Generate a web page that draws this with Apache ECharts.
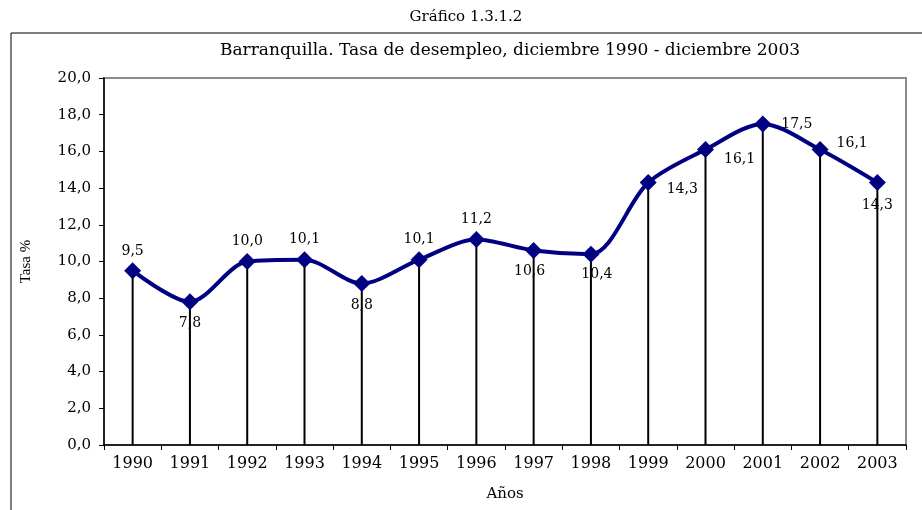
<!DOCTYPE html>
<html>
<head>
<meta charset="utf-8">
<script src="https://cdn.jsdelivr.net/npm/echarts@6/dist/echarts.min.js"></script>
<style>
  html, body { margin: 0; padding: 0; background: #fff; }
  #chart { width: 922px; height: 510px; }
</style>
</head>
<body>
<div id="chart"></div>
<script>
// datos: tasa de desempleo Barranquilla, diciembre de cada año
var years = ['1990', '1991', '1992', '1993', '1994', '1995', '1996',
             '1997', '1998', '1999', '2000', '2001', '2002', '2003'];
var tasa = [9.5, 7.8, 10.0, 10.1, 8.8, 10.1, 11.2, 10.6, 10.4, 14.3, 16.1, 17.5, 16.1, 14.3];

var fmt = function (v) { return v.toFixed(1).replace('.', ','); };

// donde va cada etiqueta (como en el original)
var labelPos = ['top', 'bottom', 'top', 'top', 'bottom', 'top', 'top',
                'bottom', 'bottom', 'right', 'right', 'right', 'right', 'bottom'];
var labelOff = [[0, 4], [0, -2], [0, 3], [0, 3], [0, -2], [0, 3], [0, 3],
                [-4, -3], [6, -3], [2, 7], [2, 10], [2, 0], [0, -6], [0, -1]];

var lineData = tasa.map(function (v, i) {
    return {
        value: v,
        label: { position: labelPos[i], offset: labelOff[i] }
    };
});

var font = 'DejaVu Serif';
var myChart = echarts.init(document.getElementById('chart'));

var option = {
    animation: false,
    backgroundColor: '#fff',
    title: [{
        text: 'Gráfico 1.3.1.2',
        left: 461, top: 5, textAlign: 'center',
        textStyle: { fontFamily: font, fontSize: 15, fontWeight: 'normal', color: '#000' }
    }, {
        text: 'Barranquilla. Tasa de desempleo, diciembre 1990 - diciembre 2003',
        left: 505, top: 37, textAlign: 'center',
        textStyle: { fontFamily: font, fontSize: 17, fontWeight: 'normal', color: '#000' }
    }],
    graphic: [{
        type: 'rect',
        shape: { x: 11, y: 33, width: 940, height: 520 },
        style: { fill: null, stroke: '#000', lineWidth: 1 },
        silent: true, z: -1
    }],
    grid: {
        left: 104, right: 16, top: 78, bottom: 65,
        show: true, borderColor: '#8c8c8c', borderWidth: 2
    },
    xAxis: {
        type: 'category',
        data: years,
        boundaryGap: true,
        name: 'Años',
        nameLocation: 'middle',
        nameGap: 42,
        nameTextStyle: { fontFamily: font, fontSize: 15, color: '#000' },
        axisLine: { lineStyle: { color: '#000', width: 1.5 } },
        axisTick: { show: true, length: 5, lineStyle: { color: '#000' } },
        axisLabel: { fontFamily: font, fontSize: 16, color: '#000', margin: 11 },
        splitLine: { show: false }
    },
    yAxis: {
        type: 'value',
        min: 0, max: 20, interval: 2,
        name: 'Tasa %',
        nameLocation: 'middle',
        nameGap: 70,
        nameTextStyle: { fontFamily: 'Liberation Serif', fontSize: 15, color: '#000' },
        axisLine: { show: true, lineStyle: { color: '#000', width: 1.5 } },
        axisTick: { show: true, length: 5, lineStyle: { color: '#000' } },
        axisLabel: { fontFamily: font, fontSize: 15, color: '#000', margin: 13, formatter: fmt },
        splitLine: { show: false }
    },
    series: [{
        // líneas verticales hasta el eje
        type: 'bar',
        data: tasa,
        barWidth: 2,
        itemStyle: { color: '#000' },
        silent: true,
        z: 1
    }, {
        type: 'line',
        data: lineData,
        smooth: 0.3,
        symbol: 'diamond',
        symbolSize: 17,
        lineStyle: { color: '#000080', width: 4 },
        itemStyle: { color: '#000080' },
        label: {
            show: true,
            distance: 8,
            fontFamily: font, fontSize: 14, color: '#000',
            formatter: function (p) { return fmt(p.value); }
        },
        z: 3
    }]
};

myChart.setOption(option);
</script>
</body>
</html>
